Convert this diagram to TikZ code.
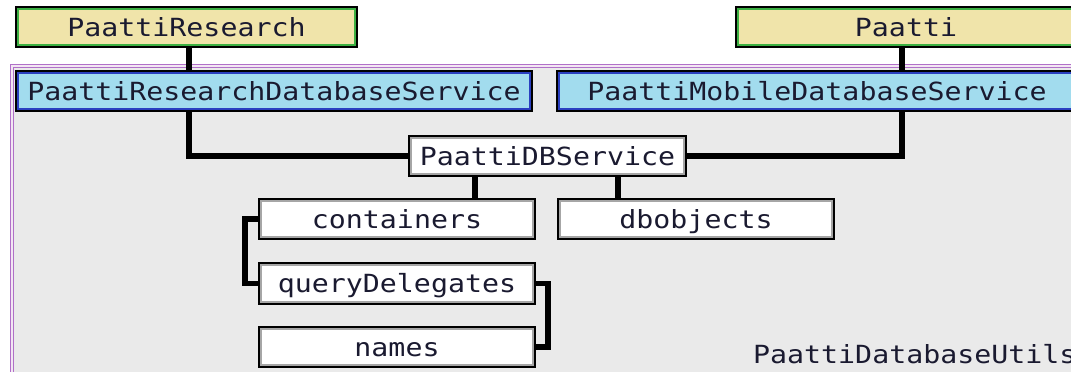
\documentclass[tikz,border=0pt]{standalone}
\usepackage{fontspec}
\newfontfamily\boxfont[FakeStretch=1.13]{DejaVu Sans Mono}
\definecolor{beige}{HTML}{F0E4AA}
\definecolor{gborder}{HTML}{3CB043}
\definecolor{bfill}{HTML}{A2DCEE}
\definecolor{bborder}{HTML}{2A3FC0}
\definecolor{pborder}{HTML}{B070C8}
\definecolor{pinner}{HTML}{F3E6F3}
\definecolor{cfill}{HTML}{EAEAEA}
\definecolor{txt}{HTML}{1A1A30}
\tikzset{
  boxbase/.style={draw=black, line width=2.4pt, inner sep=0pt, minimum height=40pt,
    text height=18pt, text depth=0pt, font=\boxfont\fontsize{25}{30}\selectfont, text=txt},
  inner/.style={path picture={\draw[#1,line width=1.6pt]
    ([shift={(2.2pt,-2.2pt)}]path picture bounding box.north west) rectangle
    ([shift={(-2.2pt,2.2pt)}]path picture bounding box.south east);}},
  pkgbox/.style={boxbase, fill=beige, inner=gborder},
  svcbox/.style={boxbase, fill=bfill, inner=bborder},
  modbox/.style={boxbase, fill=white, inner=gray!70},
  conn/.style={draw=black, line width=5.5pt, line join=miter}
}
\begin{document}
\begin{tikzpicture}[x=1pt,y=-1pt]
\useasboundingbox (0,0) rectangle (1071,372);
\clip (0,0) rectangle (1071,372);
\fill[white] (0,0) rectangle (1071,372);
% container
\draw[draw=pborder, fill=cfill, line width=1.6pt, double=pinner, double distance=1.4pt]
  (12,66) rectangle (1090,390);
\node[anchor=base west, font=\boxfont\fontsize{25}{30}\selectfont, text=txt, inner sep=0pt]
  (lbl) at (753,363) {PaattiDatabaseUtils};
% nodes
\node[pkgbox, minimum width=341pt] (PR) at (186.5,27) {PaattiResearch};
\node[pkgbox, minimum width=340pt] (P) at (906,27) {Paatti};
\node[svcbox, minimum width=516pt] (RDS) at (274,91) {PaattiResearchDatabaseService};
\node[svcbox, minimum width=520pt] (MDS) at (817,91) {PaattiMobileDatabaseService};
\node[modbox, minimum width=277pt] (DBS) at (547.5,156) {PaattiDBService};
\node[modbox, minimum width=276pt] (CT) at (397,219) {containers};
\node[modbox, minimum width=276pt] (DO) at (696,219) {dbobjects};
\node[modbox, minimum width=276pt, minimum height=41pt] (QD) at (397,283.5) {queryDelegates};
\node[modbox, minimum width=276pt] (NM) at (397,347) {names};
% connector columns
\coordinate (ca) at (189,0);
\coordinate (cb) at (902,0);
\coordinate (cc) at (475,0);
\coordinate (cd) at (618,0);
% connectors
\draw[conn] (PR.south -| ca) -- (RDS.north -| ca);
\draw[conn] (RDS.south -| ca) |- (DBS.west);
\draw[conn] (P.south -| cb) -- (MDS.north -| cb);
\draw[conn] (MDS.south -| cb) |- (DBS.east);
\draw[conn] (DBS.south -| cc) -- (CT.north -| cc);
\draw[conn] (DBS.south -| cd) -- (DO.north -| cd);
\draw[conn] (CT.west) -- ++(-13,0) |- (QD.west);
\draw[conn] (QD.east) -- ++(12,0) |- (NM.east);
\end{tikzpicture}
\end{document}
